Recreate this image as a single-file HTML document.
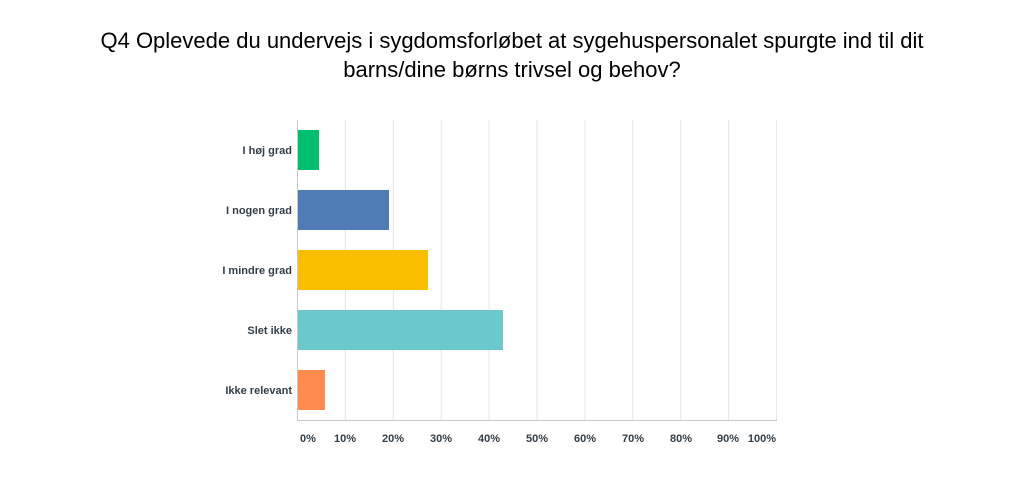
<!DOCTYPE html>
<html><head><meta charset="utf-8"><style>
body{margin:0;background:#fff;width:1024px;height:473px;overflow:hidden;font-family:"Liberation Sans",sans-serif}
</style></head><body>
<svg width="1024" height="473" xmlns="http://www.w3.org/2000/svg" font-family="Liberation Sans, sans-serif">
<text x="512" y="48" font-size="22" text-anchor="middle" fill="#000">Q4 Oplevede du undervejs i sygdomsforløbet at sygehuspersonalet spurgte ind til dit</text>
<text x="512" y="77" font-size="22" text-anchor="middle" fill="#000">barns/dine børns trivsel og behov?</text>
<g stroke="#e6e6e6" stroke-width="1">
<line x1="345.4" y1="120" x2="345.4" y2="420"/><line x1="393.3" y1="120" x2="393.3" y2="420"/>
<line x1="441.2" y1="120" x2="441.2" y2="420"/><line x1="489.1" y1="120" x2="489.1" y2="420"/>
<line x1="537" y1="120" x2="537" y2="420"/><line x1="584.9" y1="120" x2="584.9" y2="420"/>
<line x1="632.8" y1="120" x2="632.8" y2="420"/><line x1="680.7" y1="120" x2="680.7" y2="420"/>
<line x1="728.6" y1="120" x2="728.6" y2="420"/><line x1="776.5" y1="120" x2="776.5" y2="420"/>
</g>
<line x1="297.5" y1="120" x2="297.5" y2="420.5" stroke="#c8c8c8"/>
<line x1="297" y1="420.5" x2="777" y2="420.5" stroke="#c8c8c8"/>
<rect x="298" y="130" width="21" height="40" fill="#00bf6f"/>
<rect x="298" y="190" width="91" height="40" fill="#507cb6"/>
<rect x="298" y="250" width="130" height="40" fill="#f9be00"/>
<rect x="298" y="310" width="205" height="40" fill="#6bc8cd"/>
<rect x="298" y="370" width="27" height="40" fill="#ff8b4f"/>
<g font-size="11" font-weight="bold" fill="#333e48" text-anchor="end">
<text x="292" y="154">I høj grad</text>
<text x="292" y="214">I nogen grad</text>
<text x="292" y="274">I mindre grad</text>
<text x="292" y="334">Slet ikke</text>
<text x="292" y="394">Ikke relevant</text>
</g>
<g font-size="11" font-weight="bold" fill="#333e48" text-anchor="middle">
<text x="308" y="442">0%</text><text x="345" y="442">10%</text><text x="393" y="442">20%</text>
<text x="441" y="442">30%</text><text x="489" y="442">40%</text><text x="537" y="442">50%</text>
<text x="585" y="442">60%</text><text x="633" y="442">70%</text><text x="681" y="442">80%</text>
<text x="728" y="442">90%</text><text x="776" y="442" text-anchor="end">100%</text>
</g>
</svg>
</body></html>
